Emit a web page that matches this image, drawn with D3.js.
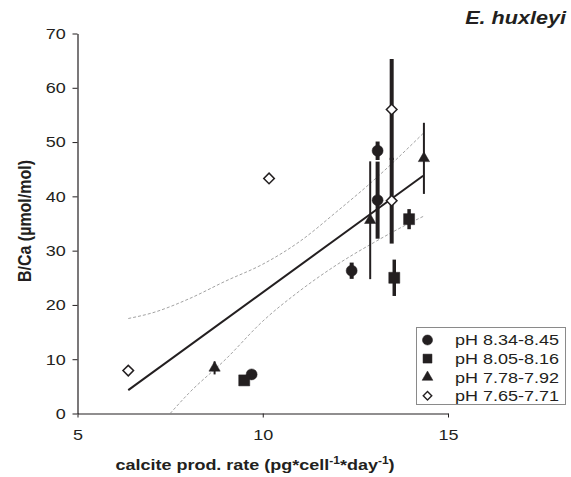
<!DOCTYPE html>
<html>
<head>
<meta charset="utf-8">
<script src="https://cdn.jsdelivr.net/npm/d3@7"></script>
<style>
  body { margin: 0; background: #fff; }
  svg { display: block; }
  text { font-family: "Liberation Sans", Arial, sans-serif; fill: #231f20; }
</style>
</head>
<body>
<svg id="chart" width="571" height="477"></svg>
<script>
// ── data ──
const seriesNames = ['pH 8.34-8.45', 'pH 8.05-8.16', 'pH 7.78-7.92', 'pH 7.65-7.71'];

const circleX = [9.7, 12.4, 13.1, 13.1];
const circleY = [7.2, 26.3, 48.4, 39.3];
const circleErr = [0, 1.5, 1.7, 7.1];

const squareX = [9.5, 13.55, 13.95];
const squareY = [6.1, 25.0, 35.8];
const squareErr = [0, 3.35, 1.85];

const triangleX = [8.7, 12.9, 14.35];
const triangleY = [8.4, 35.6, 47.0];
const triangleErr = [1.2, 10.85, 6.55];

const diamondX = [6.37, 10.17, 13.48, 13.48];
const diamondY = [7.9, 43.3, 56.0, 39.2];
const diamondErr = [0, 0, 9.3, 7.9];

// regression line and its confidence band
const fitX = [6.37, 14.33];
const fitY = [4.3, 43.8];
const upperX = [6.37, 7, 8, 9, 10, 11, 12, 13, 14, 14.33];
const upperY = [17.5, 18.5, 21.1, 24.4, 27.5, 31.7, 37.2, 43.0, 49.4, 51.6];
const lowerX = [7.5, 8, 9, 10, 11, 12, 13, 14, 14.33];
const lowerY = [0, 3.7, 10.0, 17.0, 22.6, 27.4, 31.5, 35.2, 36.3];

const xTicks = [5, 10, 15];
const yTicks = [0, 10, 20, 30, 40, 50, 60, 70];

// ═══════════════════════════════════════════
//  SETUP
// ═══════════════════════════════════════════
const INK = '#231f20';
const SX = 1.2; // the figure's lettering is stretched sideways

const svg = d3.select('#chart');
const x = d3.scaleLinear().domain([5, 15]).range([77.5, 448]);
const y = d3.scaleLinear().domain([0, 70]).range([413.5, 33.5]);

const zip = (xs, ys, es) => xs.map((v, i) => ({ x: v, y: ys[i], e: es ? es[i] : 0 }));

const series = [
  { name: seriesNames[0], pts: zip(circleX, circleY, circleErr), type: d3.symbolCircle, size: 95, rot: 0, fill: INK, barW: 4 },
  { name: seriesNames[1], pts: zip(squareX, squareY, squareErr), type: d3.symbolSquare, size: 121, rot: 0, fill: INK, barW: 3.5 },
  { name: seriesNames[2], pts: zip(triangleX, triangleY, triangleErr), type: d3.symbolTriangle, size: 55, rot: 0, fill: INK, barW: 2 },
  { name: seriesNames[3], pts: zip(diamondX, diamondY, diamondErr), type: d3.symbolSquare, size: 56, rot: 45, fill: '#fff', barW: 4 }
];

// ── axes ──
const gx = svg.append('g')
  .attr('transform', `translate(0,${y(0)})`)
  .call(d3.axisBottom(x).tickValues(xTicks).tickSize(4).tickSizeOuter(0).tickPadding(12.3));
const gy = svg.append('g')
  .attr('transform', `translate(${x(5)},0)`)
  .call(d3.axisLeft(y).tickValues(yTicks).tickSize(5).tickSizeOuter(0).tickPadding(6.8));

[gx, gy].forEach(g => {
  g.select('.domain').attr('stroke', INK).attr('stroke-width', 1.2);
  g.selectAll('.tick line').attr('stroke', INK);
  g.selectAll('.tick text')
    .attr('font-size', 15)
    .attr('font-family', '"Liberation Sans", Arial, sans-serif')
    .attr('fill', INK)
    .attr('transform', `scale(${SX},1)`);
});
gy.selectAll('.tick text').attr('x', -11.8 / SX);
gx.selectAll('.tick text').attr('y', 16.3);

// ── confidence band (dashed) ──
const band = d3.line().x(d => x(d.x)).y(d => y(d.y)).curve(d3.curveMonotoneX);
[zip(upperX, upperY), zip(lowerX, lowerY)].forEach(pts => {
  svg.append('path')
    .datum(pts)
    .attr('d', band)
    .attr('fill', 'none')
    .attr('stroke', '#8a8a8a')
    .attr('stroke-width', 0.8)
    .attr('stroke-dasharray', '3,2');
});

// ── regression line ──
svg.append('path')
  .datum(zip(fitX, fitY))
  .attr('d', d3.line().x(d => x(d.x)).y(d => y(d.y)))
  .attr('fill', 'none')
  .attr('stroke', INK)
  .attr('stroke-width', 2);

// ── error bars ──
series.forEach(s => {
  svg.append('g').selectAll('line')
    .data(s.pts.filter(d => d.e > 0))
    .join('line')
    .attr('x1', d => x(d.x)).attr('x2', d => x(d.x))
    .attr('y1', d => y(d.y - d.e)).attr('y2', d => y(d.y + d.e))
    .attr('stroke', INK)
    .attr('stroke-width', s.barW);
});

// ── markers ──
series.forEach(s => {
  const sym = d3.symbol().type(s.type).size(s.size);
  svg.append('g').selectAll('path')
    .data(s.pts)
    .join('path')
    .attr('d', sym)
    .attr('transform', d => `translate(${x(d.x)},${y(d.y)}) rotate(${s.rot})`)
    .attr('fill', s.fill)
    .attr('stroke', INK)
    .attr('stroke-width', s.fill === '#fff' ? 1.5 : 0.5);
});

// ═══════════════════════════════════════════
//  LEGEND
// ═══════════════════════════════════════════
const leg = svg.append('g');
leg.append('rect')
  .attr('x', 416.5).attr('y', 327.5).attr('width', 149).attr('height', 77)
  .attr('fill', '#fff').attr('stroke', '#8a8a8a').attr('stroke-width', 1);

const legSizes = [80, 80, 50, 36];
series.forEach((s, i) => {
  const ry = 340 + i * 18.6;
  leg.append('path')
    .attr('d', d3.symbol().type(s.type).size(legSizes[i]))
    .attr('transform', `translate(427.5,${ry}) rotate(${s.rot})`)
    .attr('fill', s.fill)
    .attr('stroke', INK)
    .attr('stroke-width', s.fill === '#fff' ? 1.4 : 0.5);
  leg.append('text')
    .attr('transform', `translate(455,${ry}) scale(${SX},1)`)
    .attr('dy', '0.36em')
    .attr('font-size', 15)
    .text(s.name);
});

// ═══════════════════════════════════════════
//  TITLES
// ═══════════════════════════════════════════
svg.append('text')
  .attr('transform', `translate(566,24) scale(${SX},1)`)
  .attr('text-anchor', 'end')
  .attr('font-size', 18)
  .attr('font-weight', 'bold')
  .attr('font-style', 'italic')
  .text('E. huxleyi');

const xt = svg.append('text')
  .attr('transform', `translate(255,470) scale(${SX},1)`)
  .attr('text-anchor', 'middle')
  .attr('font-size', 15)
  .attr('font-weight', 'bold');
xt.append('tspan').text('calcite prod. rate (pg*cell');
xt.append('tspan').attr('dy', -6).attr('font-size', 10).text('-1');
xt.append('tspan').attr('dy', 6).text('*day');
xt.append('tspan').attr('dy', -6).attr('font-size', 10).text('-1');
xt.append('tspan').attr('dy', 6).text(')');

svg.append('text')
  .attr('transform', `translate(31,221) scale(${SX},1) rotate(-90)`)
  .attr('text-anchor', 'middle')
  .attr('font-size', 16)
  .attr('font-weight', 'bold')
  .text('B/Ca (\u00b5mol/mol)');
</script>
</body>
</html>
